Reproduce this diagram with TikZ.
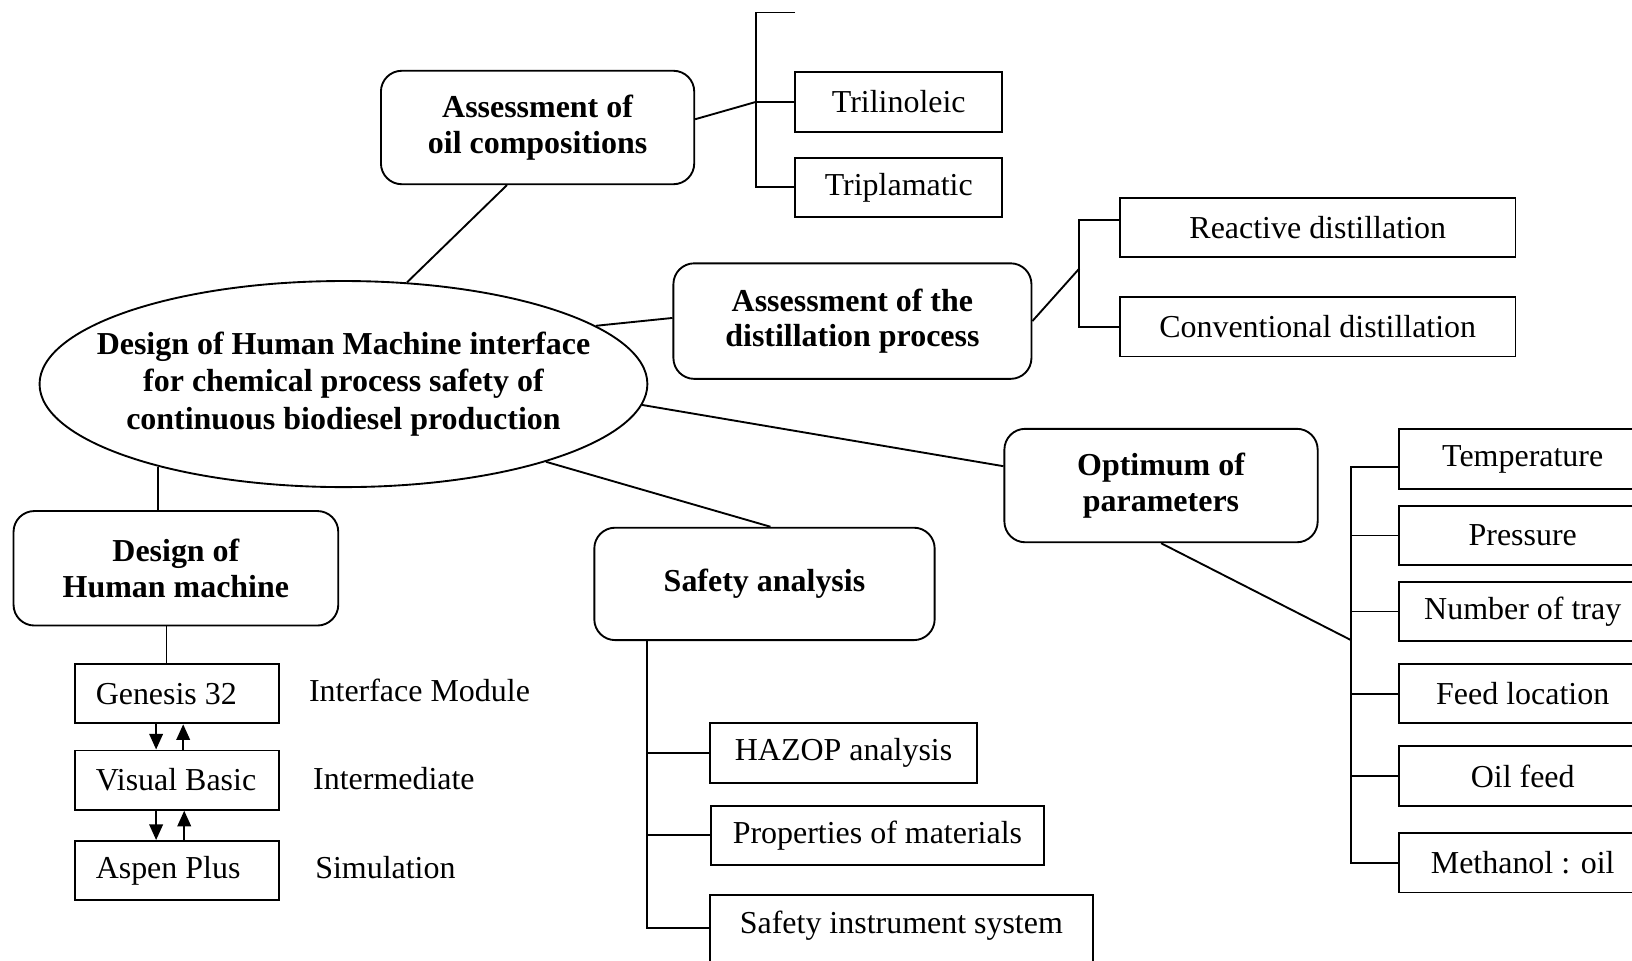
\documentclass[tikz,border=0pt]{standalone}
\usepackage{fontspec}
\setmainfont{Liberation Serif}
\usetikzlibrary{shapes.geometric,arrows.meta}

\begin{document}
\begin{tikzpicture}[x=1pt,y=-1pt,line width=1.8pt,
    every node/.style={inner sep=0pt,font=\fontsize{30.7}{34}\selectfont},
    hub/.style={draw,ellipse,align=center,inner xsep=-32pt,font=\fontsize{30.7}{36}\selectfont\bfseries},
    topic/.style={draw,rounded corners=20pt,align=center,font=\fontsize{30.7}{34}\selectfont\bfseries},
    item/.style={draw,minimum height=57pt},
    tool/.style={draw,minimum height=57pt,inner xsep=20pt},
    tip/.style={-{Triangle[length=15pt,width=13pt]}}]
    %
    \useasboundingbox (0,0) rectangle (1568,923);
    \clip (0,0) rectangle (1568,923);
    \fill[white] (0,0) rectangle (1568,923);
    %
    \node[hub,minimum width=584pt,minimum height=198pt] (hmi) at (330,369) {Design of Human Machine interface\\for chemical process safety of\\continuous biodiesel production};

    \node[topic,minimum width=301pt,minimum height=109pt] (oil) at (516.5,122.5) {Assessment of\\oil compositions};
    \node[item,minimum width=199pt] (tril) at (863.5,98) {Trilinoleic};
    \node[item,minimum width=199pt] (tripl) at (863.5,180) {Triplamatic};

    \node[topic,minimum width=344pt,minimum height=111pt] (dist) at (819,308.5) {Assessment of the\\distillation process};
    \node[item,minimum width=380pt] (react) at (1266,218.5) {Reactive distillation};
    \node[item,minimum width=380pt] (conv) at (1266,314) {Conventional distillation};

    \node[topic,minimum width=301pt,minimum height=109pt] (opt) at (1115.5,466.5) {Optimum of\\parameters};
    \node[item,minimum width=238pt] (temp) at (1463,441) {Temperature};
    \node[item,minimum width=238pt] (press) at (1463,514.5) {Pressure};
    \node[item,minimum width=238pt] (tray) at (1463,587.5) {Number of tray};
    \node[item,minimum width=238pt] (feed) at (1463,666.5) {Feed location};
    \node[item,minimum width=238pt] (oilf) at (1463,745.5) {Oil feed};
    \node[item,minimum width=238pt] (meth) at (1463,829) {Methanol : oil};

    \node[topic,minimum width=312pt,minimum height=110pt] (dhm) at (169,546) {Design of\\Human machine};
    \node[tool] (gen) at (170,666.5) {\makebox[156pt][l]{Genesis 32}};
    \node[tool] (vb) at (170,749.5) {\makebox[156pt][l]{Visual Basic}};
    \node[tool] (asp) at (170,836.5) {\makebox[156pt][l]{Aspen Plus}};
    \node[anchor=west] (ifm) at (296,663) {Interface Module};
    \node[anchor=west] (inter) at (300,748) {Intermediate};
    \node[anchor=west] (sim) at (302,834) {Simulation};

    \node[topic,minimum width=327pt,minimum height=108pt] (safe) at (734.5,561) {Safety analysis};
    \node[item,minimum width=257pt] (hazop) at (810.5,723.5) {HAZOP analysis};
    \node[item,minimum width=320pt] (prop) at (843,802.5) {Properties of materials};
    \node[draw,minimum width=368pt,text height=37pt,text depth=41pt,anchor=base] (sis) at (866,897) {Safety instrument system};
    %
    \coordinate (oilbar) at (726,12);
    \coordinate (oilstub) at (764,12);
    \coordinate (distbar) at (1037,211);
    \coordinate (distfork) at (1037,258);
    \coordinate (optbar) at (1298,449);
    \coordinate (optfork) at (1298,615);
    \coordinate (safebar) at (622,615);
    %
    \draw (hmi.58) -- (oil.242);
    \draw (hmi.13) -- (dist.179);
    \draw (hmi.-4) -- (opt.173);
    \draw (hmi.-21) -- (safe.84);
    \draw (hmi.204) -- (hmi.204 |- dhm.north);

    \draw (oil.3) -- (oilbar |- tril.west) -- (tril.west);
    \draw (oilstub) -- (oilbar) |- (tripl.west);

    \draw (dist.east) -- (distfork);
    \draw (react.west |- distbar) -- (distbar) |- (conv.west);

    \draw (opt.south) -- (optfork);
    \draw (temp.west |- optbar) -- (optbar) |- (meth.west);
    \foreach \n in {press,tray,feed,oilf}
        \draw (optbar |- \n.west) -- (\n.west);

    \draw (safebar) |- ([yshift=5pt]sis.base west);
    \draw (safebar |- hazop.west) -- (hazop.west);
    \draw (safebar |- prop.west) -- (prop.west);

    \draw ([xshift=-10pt]gen.north) -- ([xshift=-10pt]gen.north |- dhm.south);
    \draw[tip] ([xshift=-20pt]gen.south) -- ([xshift=-20pt]vb.north);
    \draw[tip] ([xshift=6pt]vb.north) -- ([xshift=6pt]gen.south);
    \draw[tip] ([xshift=-20pt]vb.south) -- ([xshift=-20pt]asp.north);
    \draw[tip] ([xshift=7pt]asp.north) -- ([xshift=7pt]vb.south);
    %
\end{tikzpicture}
\end{document}
